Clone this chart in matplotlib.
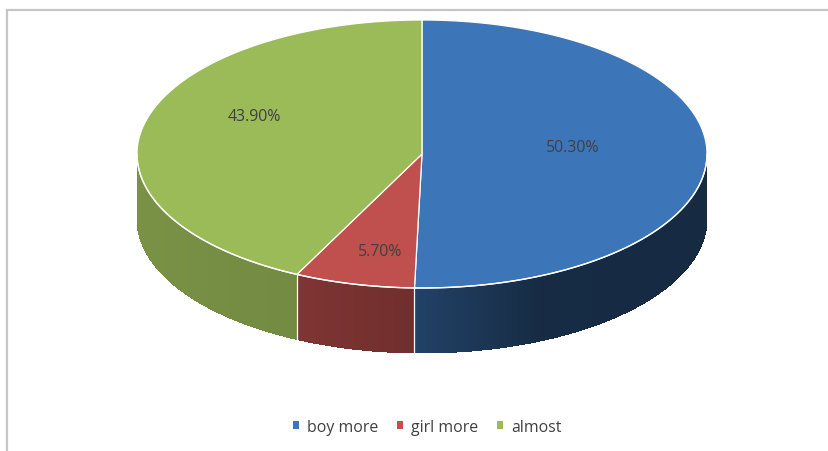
import numpy as np
import matplotlib
matplotlib.use('Agg')
import matplotlib.pyplot as plt
from matplotlib.patches import Polygon, Patch
from matplotlib.lines import Line2D

# data
categories = ['boy more', 'girl more', 'almost']
shares = [50.3, 5.7, 43.9]
colors = ['#3d76b8', '#c0504d', '#9bbb59']
label_xy = [(573, 148), (380, 252), (254, 117)]  # label anchor points (px)

W, H = 829, 452
cx, cy = 422, 155      # centre of top face
a, b = 285, 134        # ellipse radii
depth = 65             # thickness of the pie
persp = 11.4           # degrees: front slices look a bit wider

plt.rcParams['font.family'] = ['Open Sans', 'DejaVu Sans']
txt_color = '#404040'

fig = plt.figure(figsize=(W / 100, H / 100), dpi=100)
ax = fig.add_axes([0, 0, 1, 1])
ax.set_xlim(0, W)
ax.set_ylim(H, 0)
ax.axis('off')

# chart border (top and left edges only show)
ax.add_line(Line2D([7.5, W], [10.5, 10.5], color='#c6c6c6', lw=1.6))
ax.add_line(Line2D([7.5, 7.5], [10.5, H], color='#c6c6c6', lw=1.6))

# slice angles: start at 12 o'clock, clockwise, then a mild perspective warp
fracs = np.array(shares) / sum(shares)
raw = 90 - 360 * np.concatenate([[0], np.cumsum(fracs)])
u = raw + 90
bounds = u + persp * np.sin(np.radians(u)) - 90


def pt(theta_deg, dy=0.0):
    t = np.radians(theta_deg)
    return cx + a * np.cos(t), cy - b * np.sin(t) + dy


def slice_of(theta):
    for i in range(len(shares)):
        hi, lo = bounds[i], bounds[i + 1]
        t = theta
        while t > hi:
            t -= 360
        while t <= hi - 360:
            t += 360
        if lo <= t <= hi:
            return i
    return len(shares) - 1


# side light: brighter on the left, darkest round the right-hand side
shade_x = [137, 296, 300, 415, 419, 540, 707]
shade_f = [0.78, 0.74, 0.66, 0.58, 0.55, 0.37, 0.36]


def shade(c, x):
    rgb = np.array(matplotlib.colors.to_rgb(c))
    return rgb * np.interp(x, shade_x, shade_f)


# side wall, front half only (from 180 deg round the bottom to 360 deg)
steps = np.linspace(180, 360, 721)
for t1, t2 in zip(steps[:-1], steps[1:]):
    i = slice_of((t1 + t2) / 2)
    x1, y1 = pt(t1)
    x2, y2 = pt(t2)
    quad = [(x1, y1), (x2, y2), (x2, y2 + depth), (x1, y1 + depth)]
    ax.add_patch(Polygon(quad, closed=True, fc=shade(colors[i], (x1 + x2) / 2),
                         ec='none', lw=0, antialiased=False))

# vertical seams on the side wall
for th in bounds:
    tt = th % 360
    if 180 < tt < 360:
        x, y = pt(tt)
        ax.add_line(Line2D([x, x], [y, y + depth], color='white', lw=0.9))

# top face wedges
for i in range(len(shares)):
    th = np.linspace(bounds[i], bounds[i + 1], 200)
    xs, ys = pt(th)
    poly = [(cx, cy)] + list(zip(xs, ys))
    ax.add_patch(Polygon(poly, closed=True, fc=colors[i], ec='white', lw=0.9))

# white rim along the front edge
th = np.linspace(180, 360, 400)
xs, ys = pt(th)
ax.plot(xs, ys, color='white', lw=1.0)

# data labels
for (x, y), v in zip(label_xy, shares):
    ax.text(x, y, f'{v:.2f}%', ha='center', va='center', fontsize=11.4, color=txt_color)

# legend
handles = [Patch(fc=c, ec='none') for c in colors]
fig.legend(handles, categories, loc='center', bbox_to_anchor=(427 / W, 1 - 428 / H),
           ncol=3, frameon=False, fontsize=11.4, labelcolor=txt_color,
           handlelength=0.38, handleheight=0.38, handletextpad=0.5, columnspacing=1.2)

fig.savefig('out.png', dpi=100)
